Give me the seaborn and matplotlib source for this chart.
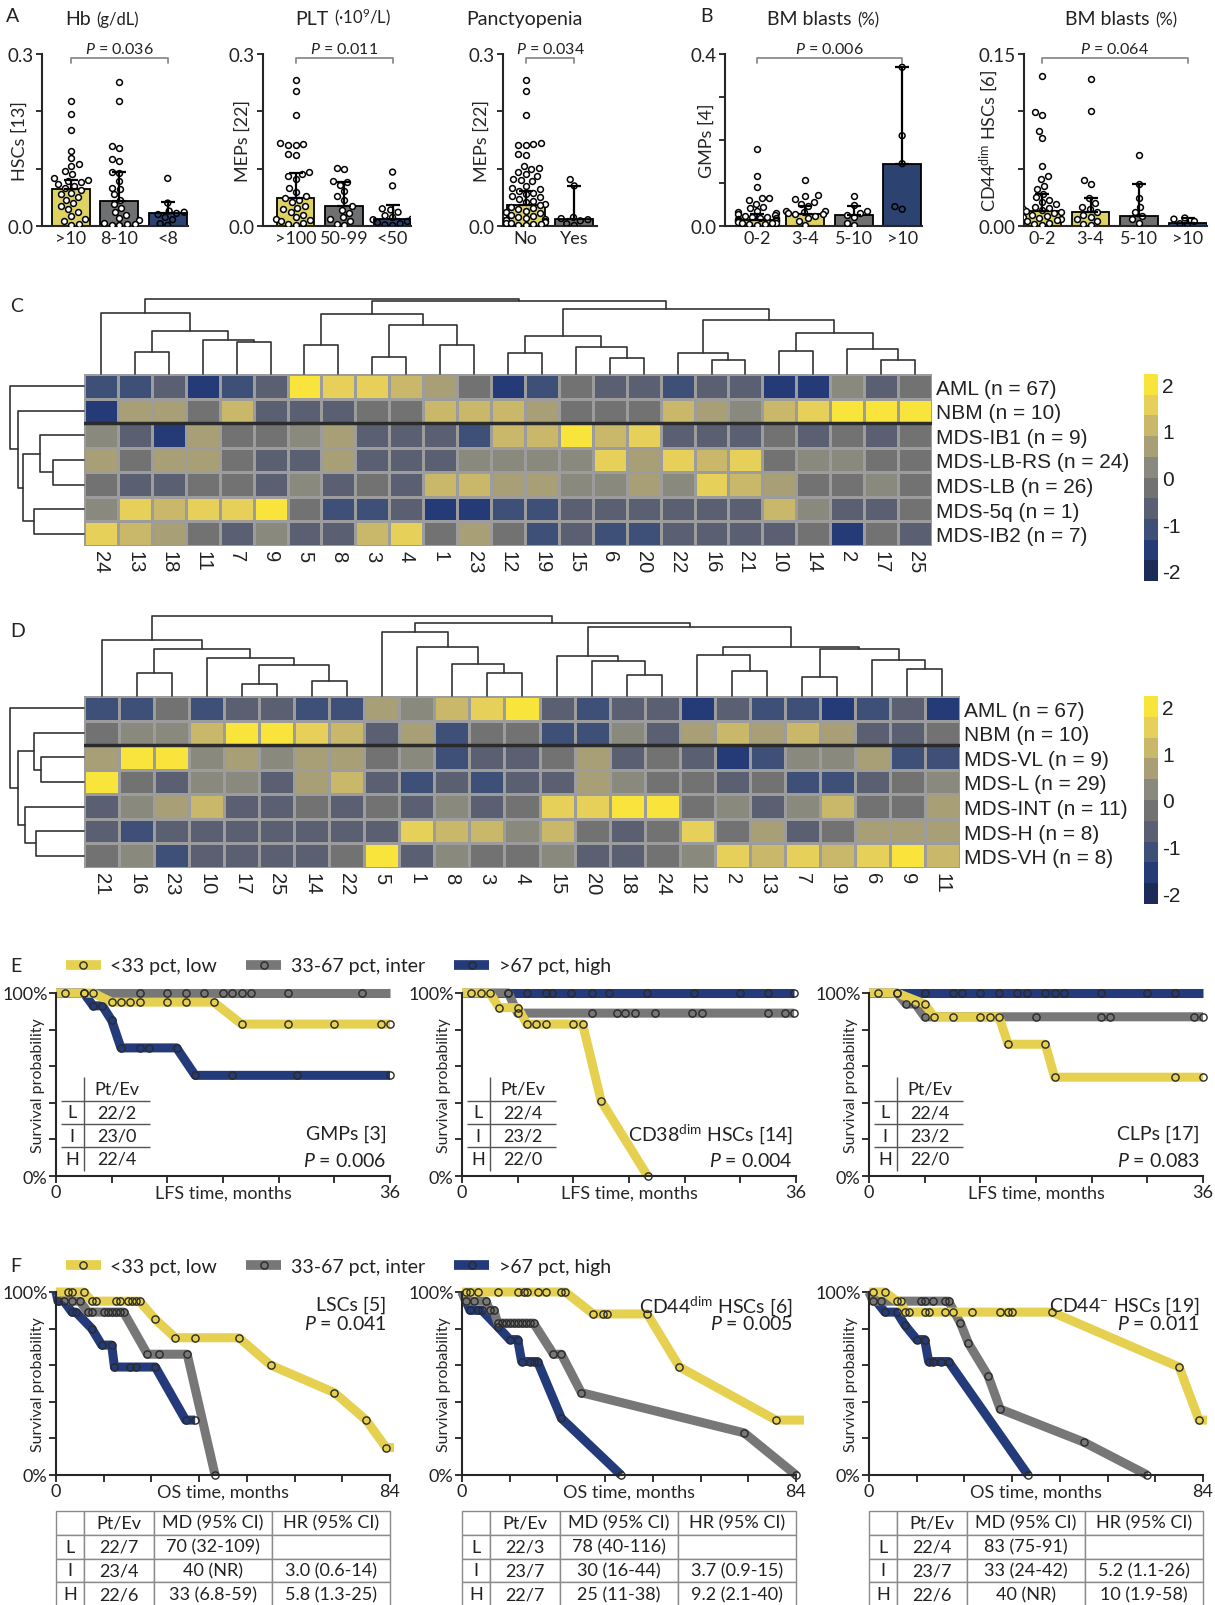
import numpy as np
import pandas as pd
import matplotlib
matplotlib.use("Agg")
import matplotlib.pyplot as plt
from matplotlib.colors import ListedColormap
from matplotlib.lines import Line2D
from matplotlib.text import Annotation
import seaborn as sns

W, H = 1215, 1606

# ---------------- colours ----------------
yellow = "#f2e34e"
grey = "#6f7071"
navy = "#20407c"
km_yellow = "#e6d050"
km_grey = "#777777"
km_navy = "#233b7a"
heat_colors = ["#1d2b58", "#243b78", "#3f5078", "#5a5f72", "#727272",
               "#8a897e", "#a89f76", "#c9b86a", "#e7d05a", "#f8e43a"]

# ---------------- A / B : bar + dot data ----------------
hb_groups = [">10", "8-10", "<8"]
hb_points = [
    [0.218, 0.196, 0.168, 0.131, 0.118, 0.108, 0.104, 0.096, 0.090, 0.084, 0.081, 0.079, 0.076, 0.073, 0.070,
     0.066, 0.062, 0.058, 0.055, 0.050, 0.046, 0.040, 0.035, 0.030, 0.024, 0.018, 0.012, 0.008, 0.004, 0.002],
    [0.251, 0.218, 0.140, 0.136, 0.117, 0.113, 0.094, 0.093, 0.079, 0.067, 0.064, 0.055, 0.046, 0.038, 0.032,
     0.024, 0.020, 0.014, 0.010, 0.006, 0.004, 0.003, 0.002, 0.001],
    [0.083, 0.040, 0.026, 0.024, 0.022, 0.020, 0.015, 0.011, 0.004, 0.001],
]
hb_median = [0.064, 0.043, 0.022]
hb_q3 = [0.080, 0.094, 0.041]

plt_groups = [">100", "50-99", "<50"]
plt_points = [
    [0.254, 0.235, 0.194, 0.144, 0.143, 0.142, 0.141, 0.126, 0.124, 0.094, 0.090, 0.087, 0.082, 0.067, 0.060,
     0.052, 0.048, 0.046, 0.041, 0.035, 0.032, 0.029, 0.025, 0.020, 0.015, 0.012, 0.010, 0.008, 0.005, 0.003, 0.002],
    [0.102, 0.099, 0.078, 0.077, 0.072, 0.061, 0.052, 0.046, 0.035, 0.028, 0.023, 0.015, 0.012, 0.009, 0.004, 0.001],
    [0.094, 0.070, 0.030, 0.028, 0.024, 0.018, 0.015, 0.012, 0.011, 0.008, 0.006, 0.004, 0.002, 0.001],
]
plt_median = [0.048, 0.035, 0.012]
plt_q3 = [0.092, 0.077, 0.037]

pan_groups = ["No", "Yes"]
pan_points = [
    [0.254, 0.235, 0.194, 0.144, 0.143, 0.142, 0.141, 0.126, 0.124, 0.104, 0.102, 0.099, 0.094, 0.090, 0.087,
     0.082, 0.080, 0.078, 0.070, 0.067, 0.064, 0.061, 0.058, 0.055, 0.052, 0.050, 0.047, 0.044, 0.041, 0.038,
     0.036, 0.034, 0.031, 0.029, 0.027, 0.024, 0.022, 0.020, 0.018, 0.016, 0.014, 0.012, 0.011, 0.010, 0.008,
     0.007, 0.006, 0.005, 0.004, 0.003, 0.002, 0.001],
    [0.081, 0.070, 0.015, 0.013, 0.011, 0.009, 0.004, 0.001],
]
pan_median = [0.036, 0.012]
pan_q3 = [0.061, 0.070]

blast_groups = ["0-2", "3-4", "5-10", ">10"]
gmp_points = [
    [0.179, 0.116, 0.090, 0.066, 0.064, 0.060, 0.052, 0.045, 0.042, 0.035, 0.032, 0.030, 0.028, 0.026, 0.024,
     0.022, 0.020, 0.019, 0.018, 0.016, 0.015, 0.014, 0.013, 0.012, 0.011, 0.010, 0.008, 0.007, 0.006, 0.005,
     0.004, 0.002],
    [0.108, 0.071, 0.069, 0.062, 0.056, 0.052, 0.046, 0.035, 0.034, 0.032, 0.030, 0.028, 0.027, 0.024, 0.018,
     0.012, 0.002],
    [0.070, 0.048, 0.036, 0.031, 0.026, 0.020, 0.008, 0.002],
    [0.369, 0.210, 0.145, 0.045, 0.039],
]
gmp_median = [0.015, 0.027, 0.026, 0.145]
gmp_q3 = [0.027, 0.046, 0.046, 0.369]

cd44_points = [
    [0.131, 0.099, 0.097, 0.083, 0.077, 0.052, 0.044, 0.041, 0.035, 0.032, 0.028, 0.025, 0.023, 0.021, 0.019,
     0.017, 0.016, 0.015, 0.014, 0.013, 0.012, 0.011, 0.010, 0.009, 0.008, 0.007, 0.006, 0.005, 0.004, 0.003,
     0.002, 0.001],
    [0.128, 0.100, 0.040, 0.037, 0.024, 0.020, 0.017, 0.015, 0.012, 0.010, 0.008, 0.006, 0.004, 0.002, 0.001],
    [0.062, 0.037, 0.024, 0.017, 0.012, 0.009, 0.006, 0.003],
    [0.007, 0.006, 0.004, 0.002, 0.001],
]
cd44_median = [0.013, 0.012, 0.009, 0.003]
cd44_q3 = [0.028, 0.024, 0.037, 0.007]

# ---------------- C / D : heatmaps ----------------
c_cols = [24, 13, 18, 11, 7, 9, 5, 8, 3, 4, 1, 23, 12, 19, 15, 6, 20, 22, 16, 21, 10, 14, 2, 17, 25]
c_rows = ["AML (n = 67)", "NBM (n = 10)", "MDS-IB1 (n = 9)", "MDS-LB-RS (n = 24)",
          "MDS-LB (n = 26)", "MDS-5q (n = 1)", "MDS-IB2 (n = 7)"]
c_values = [
    [-1.1, -1.1, -0.7, -1.6, -1.1, -0.7, 2.0, 1.6, 1.6, 1.1, 0.7, -0.2, -1.6, -1.1, -0.2, -0.7, -0.7, -1.1, -0.7, -0.7, -1.6, -1.6, 0.2, -0.7, -0.2],
    [-1.6, 0.7, 0.7, -0.2, 1.1, -0.7, -0.7, -0.7, -0.2, -0.2, 1.1, 1.1, 1.1, 0.7, -0.2, -0.2, -0.2, 1.1, 0.7, 0.2, 1.1, 1.6, 2.0, 2.0, 2.0],
    [0.2, -0.7, -1.6, 0.7, -0.2, -0.2, 0.2, 0.7, -0.7, -0.7, -0.7, -1.1, 1.1, 1.1, 2.0, 1.1, 1.6, -0.7, -0.7, -0.7, -0.2, -0.7, -0.2, -0.7, -0.2],
    [0.7, -0.2, 0.7, 0.7, -0.2, -0.7, -0.7, 0.7, -0.7, -0.7, -0.7, 0.2, 0.2, 0.2, 0.2, 1.6, 0.7, 1.6, 1.1, 1.6, -0.2, 0.2, 0.2, -0.2, -0.2],
    [-0.2, -0.7, -0.7, -0.2, -0.2, -0.7, 0.2, -0.7, -0.2, -0.7, 1.1, 1.1, 0.7, 0.7, 0.2, 0.2, 0.7, 0.2, 1.6, 1.1, 0.7, -0.2, -0.2, 0.2, -0.2],
    [0.2, 1.6, 1.1, 1.6, 1.6, 2.0, -0.2, -1.1, -1.1, -0.7, -1.6, -1.6, -1.1, -1.1, -0.7, -0.7, -0.7, -0.7, -0.7, -0.7, 1.1, 0.2, -0.7, -0.7, -0.2],
    [1.6, 1.1, 0.7, -0.2, -0.7, 0.2, -0.7, -0.7, 1.1, 1.6, -0.2, 0.7, -0.2, -1.1, -0.7, -1.1, -1.1, -0.7, -0.7, -0.7, -0.7, -0.2, -1.6, -0.2, -0.7],
]
# merges (a, b, height): leaves 0..n-1 in display order, new clusters numbered n, n+1, ...
c_col_links = [(1, 2, 65), (4, 5, 93), (3, 26, 101), (25, 27, 128), (0, 28, 181),
               (6, 7, 86), (8, 9, 51), (10, 11, 86), (31, 32, 143), (30, 33, 178),
               (12, 13, 61), (15, 16, 48), (14, 36, 80), (35, 37, 111),
               (18, 19, 41), (17, 39, 61), (20, 21, 68), (23, 24, 42), (22, 42, 73),
               (41, 43, 121), (40, 44, 158), (38, 45, 191), (34, 46, 215), (29, 47, 221)]
c_row_links = [(3, 4, 77), (2, 7, 110), (5, 6, 125), (8, 9, 152), (1, 10, 166), (0, 11, 185)]

d_cols = [21, 16, 23, 10, 17, 25, 14, 22, 5, 1, 8, 3, 4, 15, 20, 18, 24, 12, 2, 13, 7, 19, 6, 9, 11]
d_rows = ["AML (n = 67)", "NBM (n = 10)", "MDS-VL (n = 9)", "MDS-L (n = 29)",
          "MDS-INT (n = 11)", "MDS-H (n = 8)", "MDS-VH (n = 8)"]
d_values = [
    [-1.1, -1.1, -0.2, -1.1, -0.7, -0.7, -1.1, -1.1, 0.7, 0.2, 1.1, 1.6, 2.0, -0.7, -1.1, -0.7, -0.7, -1.6, -0.7, -1.1, -1.1, -1.6, -1.1, -0.7, -1.6],
    [-0.2, 0.2, 0.2, 1.1, 2.0, 2.0, 1.6, 1.1, -0.7, 0.7, -1.1, -0.2, -0.2, -1.1, -1.1, 0.2, -0.7, 0.7, 1.1, 0.7, 1.1, 0.7, -0.7, -0.7, -0.2],
    [0.7, 2.0, 2.0, 0.2, 0.7, 0.2, 0.7, 0.7, -0.2, 0.2, -1.1, -0.7, -0.7, -0.2, 0.7, -0.7, -0.2, -0.7, -1.6, -1.1, 0.2, 0.2, 0.7, -1.1, -1.1],
    [2.0, -0.2, -0.7, 0.2, 0.2, -0.7, 0.7, 1.1, -0.7, -1.1, -0.7, -1.1, -0.7, -0.7, 0.7, 0.2, -0.2, -0.2, -0.7, -0.2, -1.1, -1.1, -0.7, -0.2, 0.2],
    [-0.7, 0.2, 0.7, 1.1, -0.7, -0.7, -0.2, -0.7, -0.2, -0.7, 0.2, -0.7, -0.2, 1.6, 1.6, 2.0, 2.0, -0.2, 0.2, -0.7, 0.2, 1.1, -0.2, -0.2, 0.7],
    [-0.7, -1.1, -0.7, -0.7, -0.7, -0.7, -0.7, -0.7, -0.7, 1.6, 1.1, 1.1, 0.2, 1.1, -0.2, -0.7, -0.2, 1.6, -0.2, 0.7, -0.7, -0.2, 0.7, 0.7, 0.7],
    [-0.2, 0.2, -1.1, -0.7, -0.7, -0.7, -0.7, -0.2, 2.0, -0.7, 0.2, -0.2, -0.2, 0.2, -0.7, -0.7, -0.2, 0.2, 1.6, 1.1, 1.6, 1.1, 1.6, 2.0, 1.1],
]
d_col_links = [(1, 2, 63), (4, 5, 32), (6, 7, 42), (26, 27, 85), (3, 28, 104), (25, 29, 130),
               (0, 30, 155), (11, 12, 63), (10, 32, 88), (9, 33, 135), (8, 34, 175),
               (15, 16, 57), (14, 36, 95), (13, 37, 110), (18, 19, 70), (17, 39, 114),
               (20, 21, 53), (23, 24, 74), (22, 42, 98), (41, 43, 130), (40, 44, 135),
               (38, 45, 190), (35, 46, 200), (31, 47, 220)]
d_row_links = [(2, 3, 107), (1, 7, 125), (5, 6, 120), (4, 9, 147), (8, 10, 165), (0, 11, 185)]

# ---------------- E / F : survival curves (time, survival %) ----------------
e1_low_t = [0, 1, 3, 4, 6, 7, 8, 9, 12, 14, 17, 20, 25, 30, 35, 36]
e1_low_s = [100, 100, 100, 100, 95, 95, 95, 95, 95, 95, 95, 83, 83, 83, 83, 83]
e1_mid_t = [0, 9, 12, 14, 16, 18, 19, 20, 21, 25, 33]
e1_mid_s = [100, 100, 100, 100, 100, 100, 100, 100, 100, 100, 100]
e1_high_t = [0, 3, 4, 5, 6, 7, 9, 10, 13, 15, 19, 26, 36]
e1_high_s = [100, 100, 93, 93, 85, 70, 70, 70, 70, 55, 55, 55, 55]

e2_low_t = [0, 1, 2, 3, 4, 6, 7, 8, 9, 12, 13, 15, 20]
e2_low_s = [100, 100, 100, 100, 92, 92, 83, 83, 83, 83, 83, 41, 0]
e2_mid_t = [0, 5, 6, 14, 16.7, 17.6, 18.7, 20.8, 24.8, 25.9, 33, 34.8, 35.8]
e2_mid_s = [100, 100, 89, 89, 89, 89, 89, 89, 89, 89, 89, 89, 89]
e2_high_t = [0, 5, 7, 9, 9.7, 11.8, 14, 15.8, 19.9, 25, 30, 33, 35.8]
e2_high_s = [100, 100, 100, 100, 100, 100, 100, 100, 100, 100, 100, 100, 100]

e3_low_t = [0, 1, 3, 6, 7, 9, 12, 13, 14, 15, 19, 20, 33, 36]
e3_low_s = [100, 100, 100, 94, 87, 87, 87, 87, 87, 72, 72, 54, 54, 54]
e3_mid_t = [0, 3, 4, 5, 6, 18, 25, 26, 35, 36]
e3_mid_s = [100, 100, 94, 94, 87, 87, 87, 87, 87, 87]
e3_high_t = [0, 6, 9, 10, 12, 14, 16, 17, 19, 20, 21, 25, 30, 33]
e3_high_s = [100, 100, 100, 100, 100, 100, 100, 100, 100, 100, 100, 100, 100, 100]

f1_low_t = [0, 3, 4, 7, 9, 10, 15, 16, 18, 19, 20, 21, 25, 30, 35, 46, 54, 70, 78, 83]
f1_low_s = [100, 100, 100, 100, 95, 95, 95, 95, 95, 95, 95, 95, 85, 75, 75, 75, 60, 45, 30, 15]
f1_mid_t = [0, 4, 6, 8, 9, 12, 13, 14, 15, 16, 17, 23, 26, 33, 40]
f1_mid_s = [100, 95, 95, 89, 89, 89, 89, 89, 89, 89, 89, 66, 66, 66, 0]
f1_high_t = [0, 0.5, 2, 4, 5, 9, 11.5, 14, 14.7, 18.7, 20.2, 25, 32.6, 35]
f1_high_s = [100, 95, 95, 89, 89, 80, 71, 71, 59, 59, 59, 59, 30, 30]

f2_low_t = [0, 1, 2, 4, 9, 14, 15.6, 16.4, 19, 21, 25, 26, 33, 35.5, 36.4, 46.6, 54.7, 79]
f2_low_s = [100, 100, 100, 100, 100, 100, 100, 100, 100, 100, 100, 100, 88, 88, 88, 88, 59, 30]
f2_mid_t = [0, 1, 3, 6, 7, 8, 9, 10, 11, 12, 13, 14, 15, 16, 17, 18, 23, 25, 30, 71, 84]
f2_mid_s = [100, 95, 95, 95, 90, 90, 83, 83, 83, 83, 83, 83, 83, 83, 83, 83, 66, 66, 45, 23, 0]
f2_high_t = [0, 2, 4, 5, 9, 12, 14, 15, 17, 18, 19, 25, 40]
f2_high_s = [100, 90, 90, 90, 81, 74, 74, 62, 62, 62, 62, 31, 0]

f3_low_t = [0, 1, 4, 7, 8, 9, 10, 14, 15, 19, 21, 26, 33, 35, 36, 46, 78, 83]
f3_low_s = [100, 100, 100, 95, 95, 89, 89, 89, 89, 89, 89, 89, 89, 89, 89, 89, 59, 30]
f3_mid_t = [0, 1, 3, 13, 14, 16, 19, 20, 23, 25, 30, 33, 54, 70]
f3_mid_s = [100, 95, 95, 95, 95, 95, 95, 95, 83, 72, 54, 36, 18, 0]
f3_high_t = [0, 4, 7, 9, 12, 14, 15, 16, 18, 20, 40]
f3_high_s = [100, 89, 89, 82, 74, 74, 62, 62, 62, 62, 0]

# curves that run on flat past their last censor mark
e1_mid_end, e3_high_end = 36, 36
f1_low_end, f2_low_end, f3_low_end = 85, 86, 85

lfs_tables = [[["", "Pt/Ev"], ["L", "22/2"], ["I", "23/0"], ["H", "22/4"]],
              [["", "Pt/Ev"], ["L", "22/4"], ["I", "23/2"], ["H", "22/0"]],
              [["", "Pt/Ev"], ["L", "22/4"], ["I", "23/2"], ["H", "22/0"]]]
os_header = ["", "Pt/Ev", "MD (95% CI)", "HR (95% CI)"]
os_tables = [
    [["L", "22/7", "70 (32-109)", ""], ["I", "23/4", "40 (NR)", "3.0 (0.6-14)"], ["H", "22/6", "33 (6.8-59)", "5.8 (1.3-25)"]],
    [["L", "22/3", "78 (40-116)", ""], ["I", "23/7", "30 (16-44)", "3.7 (0.9-15)"], ["H", "22/7", "25 (11-38)", "9.2 (2.1-40)"]],
    [["L", "22/4", "83 (75-91)", ""], ["I", "23/7", "33 (24-42)", "5.2 (1.1-26)"], ["H", "22/6", "40 (NR)", "10 (1.9-58)"]],
]
legend_labels = ["<33 pct, low", "33-67 pct, inter", ">67 pct, high"]

# ---------------- style ----------------
sns.set_theme(style="ticks")
plt.rcParams["font.family"] = ["Lato", "DejaVu Sans"]
plt.rcParams["mathtext.fontset"] = "custom"
plt.rcParams["mathtext.rm"] = "Lato"
plt.rcParams["mathtext.it"] = "Lato:italic"
plt.rcParams["axes.linewidth"] = 1.5
plt.rcParams["xtick.major.width"] = 1.3
plt.rcParams["ytick.major.width"] = 1.3
plt.rcParams["ytick.minor.width"] = 1.3
plt.rcParams["text.color"] = "#222222"
plt.rcParams["xtick.color"] = "#222222"
plt.rcParams["ytick.color"] = "#222222"
HEAT_FONT = ["Liberation Sans", "DejaVu Sans"]

fig = plt.figure(figsize=(W / 100, H / 100), dpi=100)


def px_axes(l, t, r, b):
    return fig.add_axes([l / W, 1 - b / H, (r - l) / W, (b - t) / H])


def letter(x, y, s):
    fig.text(x / W, 1 - y / H, s, fontsize=14, va="center", ha="left")


def title(x, y, big, small):
    t1 = fig.text(x / W, 1 - y / H, big, fontsize=14, va="baseline", ha="left")
    if small:
        fig.add_artist(Annotation(small, xy=(1, 0), xycoords=t1, xytext=(4, 0),
                                  textcoords="offset points", fontsize=12, va="bottom", ha="left"))


def bar_panel(box, xlim, groups, points, medians, q3s, colors, ylabel, ypad, ymax, ticklabels, minor, ptext):
    ax = px_axes(*box)
    df = pd.DataFrame({"group": np.repeat(groups, [len(p) for p in points]),
                       "value": np.concatenate(points)})
    sns.barplot(x=groups, y=medians, hue=groups, palette=colors, order=groups, legend=False,
                width=0.78, edgecolor="black", linewidth=1.3, ax=ax, zorder=2)
    n = len(groups)
    ax.errorbar(np.arange(n), medians, yerr=[np.zeros(n), np.array(q3s) - np.array(medians)],
                fmt="none", ecolor="black", elinewidth=1.6, capsize=5, capthick=1.6, zorder=4)
    sns.swarmplot(data=df, x="group", y="value", order=groups, color="white", edgecolor="black",
                  linewidth=1.1, size=4.2, ax=ax, zorder=3, warn_thresh=1)
    ax.collections[-1].set_facecolor("none")
    ax.set_xlim(*xlim)
    ax.set_ylim(0, ymax)
    ax.set_yticks([0, ymax])
    ax.set_yticklabels(ticklabels)
    ax.set_yticks(minor, minor=True)
    ax.tick_params(axis="y", which="both", length=4, labelsize=13.5, pad=2)
    ax.tick_params(axis="x", length=0, labelsize=13, pad=3)
    ax.set_xlabel("")
    ax.set_ylabel(ylabel, fontsize=13)
    ax.yaxis.set_label_coords(-ypad / (box[2] - box[0]), 0.5)
    sns.despine(ax=ax)
    # significance bracket
    yb, d = 0.975 * ymax, 0.025 * ymax
    ax.plot([0, 0, n - 1, n - 1], [yb - d, yb, yb, yb - d], color="#8c8c8c", lw=1.3, clip_on=False)
    ax.text((n - 1) / 2, yb + 0.012 * ymax, "$\\it{P}$ = " + ptext, ha="center", va="bottom",
            fontsize=11.5, clip_on=False)
    return ax


def draw_dendro(ax, links, n, side):
    pos = {i: i + 0.5 for i in range(n)}
    hgt = {i: 0.0 for i in range(n)}
    for k, (a, b, h) in enumerate(links):
        xs = [pos[a], pos[a], pos[b], pos[b]]
        ys = [hgt[a], h, h, hgt[b]]
        if side == "top":
            ax.plot(xs, ys, color="#333333", lw=1.2, clip_on=False)
        else:
            ax.plot(ys, xs, color="#333333", lw=1.2, clip_on=False)
        pos[n + k] = (pos[a] + pos[b]) / 2
        hgt[n + k] = h
    top = max(h for _, _, h in links)
    if side == "top":
        ax.set_xlim(0, n)
        ax.set_ylim(0, top)
    else:
        ax.set_ylim(n, 0)
        ax.set_xlim(top, 0)
    ax.axis("off")


def heat_panel(hbox, cbox, cdbox, rdbox, values, rows, cols, col_links, row_links):
    ax = px_axes(*hbox)
    cax = px_axes(*cbox)
    df = pd.DataFrame(values, index=rows, columns=[str(c) for c in cols])
    sns.heatmap(df, ax=ax, cbar_ax=cax, cmap=ListedColormap(heat_colors), vmin=-2.22, vmax=2.22,
                linewidths=1, linecolor="#9c9c9c", cbar_kws={"ticks": [-2, -1, 0, 1, 2]})
    ax.yaxis.tick_right()
    ax.set_yticks(np.arange(len(rows)) + 0.5)
    ax.set_yticklabels(rows, rotation=0, fontsize=15, family=HEAT_FONT, ha="left")
    ax.set_xticks(np.arange(len(cols)) + 0.5)
    ax.set_xticklabels([str(c) for c in cols], rotation=-90, fontsize=14.5, family=HEAT_FONT)
    ax.tick_params(length=0, pad=3)
    ax.set_xlabel("")
    ax.set_ylabel("")
    ax.axhline(2, color="#2b2b2b", lw=2.5)
    cb = ax.collections[0].colorbar
    cb.outline.set_visible(False)
    cax.set_yticklabels(["-2", "-1", "0", "1", "2"], fontsize=15, family=HEAT_FONT)
    cax.tick_params(length=0, pad=3)
    draw_dendro(px_axes(*cdbox), col_links, len(cols), "top")
    draw_dendro(px_axes(*rdbox), row_links, len(rows), "left")


def km_panel(box, curves, xmax, step, xlabel, name, ptext, name_y, p_y):
    ax = px_axes(*box)
    for t, s, end, color in curves:
        tt = list(t) + ([end] if end is not None else [])
        ss = list(s) + ([s[-1]] if end is not None else [])
        sns.lineplot(x=tt, y=ss, ax=ax, color=color, linewidth=6.5, sort=False, estimator=None)
        ax.lines[-1].set_clip_on(False)
        ax.lines[-1].set_solid_capstyle("butt")
    for t, s, end, color in curves:
        ax.plot(t[1:], s[1:], ls="none", marker="o", ms=5.2, mfc="none", mec="#2a2a2a", mew=1.0,
                clip_on=False, zorder=5)
    ax.set_xlim(0, xmax)
    ax.set_ylim(0, 100)
    ax.set_xticks(np.arange(0, xmax + 1, step))
    ax.set_xticklabels(["0"] + [""] * (xmax // step - 1) + [str(xmax)])
    ax.set_yticks(np.arange(0, 101, 20))
    ax.set_yticklabels(["0%", "", "", "", "", "100%"])
    ax.tick_params(axis="both", length=5, labelsize=13, pad=1)
    ax.set_xlabel(xlabel, fontsize=13, labelpad=-11)
    ax.set_ylabel("Survival probability", fontsize=11.5)
    ax.yaxis.set_label_coords(-11 / (box[2] - box[0]), 0.5)
    sns.despine(ax=ax)
    ax.text(0.99, name_y, name, transform=ax.transAxes, ha="right", va="center", fontsize=14)
    ax.text(0.99, p_y, "$\\it{P}$ = " + ptext, transform=ax.transAxes, ha="right", va="center", fontsize=14)
    return ax


def small_table(ax, rows):
    tb = ax.table(cellText=rows, colWidths=[0.069, 0.198], bbox=[0.014, 0.03, 0.267, 0.51],
                  cellLoc="center")
    tb.auto_set_font_size(False)
    tb.set_fontsize(13)
    for (r, c), cell in tb.get_celld().items():
        edges = ""
        if r < len(rows) - 1:
            edges += "B"
        if c == 0:
            edges += "R"
        cell.visible_edges = edges if edges else "open"
        cell.set_facecolor("none")
        cell.set_edgecolor("#555555")
        cell.set_linewidth(1.0)


def os_table(box, rows):
    ax = px_axes(*box)
    ax.axis("off")
    tb = ax.table(cellText=[os_header] + rows, colWidths=[0.083, 0.21, 0.354, 0.353],
                  bbox=[0, 0, 1, 1], cellLoc="center")
    tb.auto_set_font_size(False)
    tb.set_fontsize(13)
    for cell in tb.get_celld().values():
        cell.set_edgecolor("#8a8a8a")
        cell.set_linewidth(1.0)


# ---------------- panels A / B ----------------
letter(6, 17, "A")
letter(700, 17, "B")
title(65, 25, "Hb", "(g/dL)")
title(295, 25, "PLT", "(·10$^{9}$/L)")
title(466, 25, "Panctyopenia", None)
title(767, 25, "BM blasts", "(%)")
title(1065, 25, "BM blasts", "(%)")

bar_panel((42, 55, 188, 227), (-0.6, 2.42), hb_groups, hb_points, hb_median, hb_q3,
          [yellow, grey, navy], "HSCs [13]", 14, 0.3, ["0.0", "0.3"], [0.1, 0.2], "0.036")
bar_panel((263, 55, 411, 227), (-0.67, 2.38), plt_groups, plt_points, plt_median, plt_q3,
          [yellow, grey, navy], "MEPs [22]", 12, 0.3, ["0.0", "0.3"], [0.1, 0.2], "0.011")
bar_panel((503, 55, 597, 227), (-0.47, 1.47), pan_groups, pan_points, pan_median, pan_q3,
          [yellow, grey], "MEPs [22]", 13, 0.3, ["0.0", "0.3"], [0.1, 0.2], "0.034")
bar_panel((725, 55, 922, 227), (-0.66, 3.41), blast_groups, gmp_points, gmp_median, gmp_q3,
          [yellow, yellow, grey, navy], "GMPs [4]", 10, 0.4, ["0.0", "0.4"], [0.1, 0.2, 0.3], "0.006")
bar_panel((1024, 55, 1207, 227), (-0.37, 3.4), blast_groups, cd44_points, cd44_median, cd44_q3,
          [yellow, yellow, grey, navy], "CD44$^{\\mathrm{dim}}$ HSCs [6]", 24, 0.15, ["0.00", "0.15"],
          [0.05, 0.10], "0.064")

# ---------------- panels C / D ----------------
letter(10, 307, "C")
heat_panel((84, 375, 932, 547), (1144, 375, 1158, 582), (84, 300, 932, 375), (10, 375, 84, 547),
           c_values, c_rows, c_cols, c_col_links, c_row_links)
letter(10, 632, "D")
heat_panel((84, 697, 960, 869), (1144, 697, 1158, 905), (84, 617, 960, 697), (10, 697, 84, 869),
           d_values, d_rows, d_cols, d_col_links, d_row_links)

# ---------------- panel E ----------------
letter(10, 967, "E")
handles = [Line2D([], [], color=c, lw=7, solid_capstyle="butt", marker="o", ms=5.2, mfc="none",
                  mec="#2a2a2a", mew=1.0)
           for c in (km_yellow, km_grey, km_navy)]
for ypos in (967, 1267):
    fig.legend(handles, legend_labels, loc="center left", bbox_to_anchor=(48 / W, 1 - ypos / H),
               ncol=3, frameon=False, fontsize=14, handlelength=1.8, handletextpad=0.5,
               columnspacing=1.5)

e_boxes = [(56, 994, 390, 1177), (462, 994, 796, 1177), (869, 994, 1203, 1177)]
e_curves = [
    [(e1_high_t, e1_high_s, None, km_navy), (e1_mid_t, e1_mid_s, e1_mid_end, km_grey),
     (e1_low_t, e1_low_s, None, km_yellow)],
    [(e2_high_t, e2_high_s, None, km_navy), (e2_mid_t, e2_mid_s, None, km_grey),
     (e2_low_t, e2_low_s, None, km_yellow)],
    [(e3_high_t, e3_high_s, e3_high_end, km_navy), (e3_mid_t, e3_mid_s, None, km_grey),
     (e3_low_t, e3_low_s, None, km_yellow)],
]
e_names = ["GMPs [3]", "CD38$^{\\mathrm{dim}}$ HSCs [14]", "CLPs [17]"]
e_p = ["0.006", "0.004", "0.083"]
for box, curves, name, p, rows in zip(e_boxes, e_curves, e_names, e_p, lfs_tables):
    ax = km_panel(box, curves, 36, 6, "LFS time, months", name, p, 0.235, 0.09)
    small_table(ax, rows)

# ---------------- panel F ----------------
letter(10, 1267, "F")
f_boxes = [(56, 1293, 390, 1476), (462, 1293, 796, 1476), (869, 1293, 1203, 1476)]
f_curves = [
    [(f1_high_t, f1_high_s, None, km_navy), (f1_mid_t, f1_mid_s, None, km_grey),
     (f1_low_t, f1_low_s, f1_low_end, km_yellow)],
    [(f2_high_t, f2_high_s, None, km_navy), (f2_mid_t, f2_mid_s, None, km_grey),
     (f2_low_t, f2_low_s, f2_low_end, km_yellow)],
    [(f3_high_t, f3_high_s, None, km_navy), (f3_mid_t, f3_mid_s, None, km_grey),
     (f3_low_t, f3_low_s, f3_low_end, km_yellow)],
]
f_names = ["LSCs [5]", "CD44$^{\\mathrm{dim}}$ HSCs [6]", "CD44$^{-}$ HSCs [19]"]
f_p = ["0.041", "0.005", "0.011"]
for box, curves, name, p, rows in zip(f_boxes, f_curves, f_names, f_p, os_tables):
    km_panel(box, curves, 84, 12, "OS time, months", name, p, 0.93, 0.83)
    os_table((box[0], 1512, box[2], 1607), rows)

fig.savefig("out.png", dpi=100)
